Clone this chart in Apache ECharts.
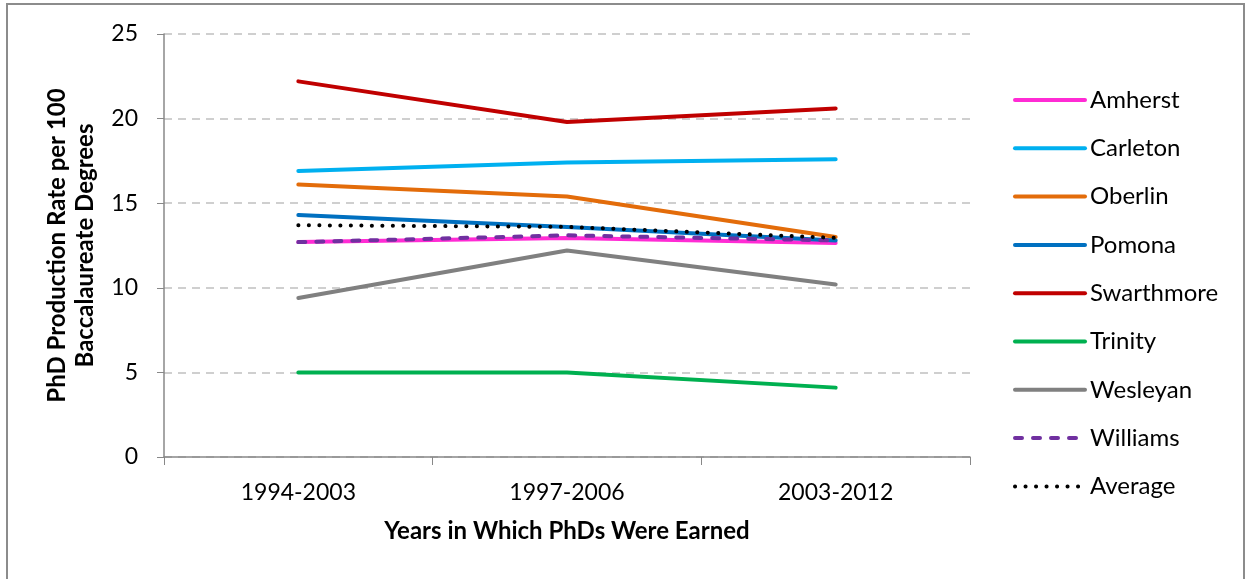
<!DOCTYPE html>
<html>
<head>
<meta charset="utf-8">
<script src="https://cdn.jsdelivr.net/npm/echarts@6/dist/echarts.min.js"></script>
<style>
  html, body { margin: 0; padding: 0; background: #fff; }
  #chart { width: 1248px; height: 579px; }
</style>
</head>
<body>
<div id="chart"></div>
<script>
var periods = ['1994-2003', '1997-2006', '2003-2012'];
var amherst = [12.7, 12.95, 12.65];
var carleton = [16.9, 17.4, 17.6];
var oberlin = [16.1, 15.4, 13.0];
var pomona = [14.3, 13.6, 12.8];
var swarthmore = [22.2, 19.8, 20.6];
var trinity = [5.0, 5.0, 4.1];
var wesleyan = [9.4, 12.2, 10.2];
var williams = [12.7, 13.1, 12.8];
var average = [13.7, 13.6, 12.95];

var font = 'Lato, "Open Sans", sans-serif';

function line(name, data, color, type) {
    return {
        name: name,
        type: 'line',
        data: data,
        symbol: 'none',
        showSymbol: false,
        lineStyle: {
            color: color,
            width: 4,
            type: type || 'solid',
            cap: 'round'
        },
        itemStyle: { color: color },
        emphasis: { disabled: true }
    };
}

var charts = echarts.init(document.getElementById('chart'));
var option = {
    animation: false,
    textStyle: { fontFamily: font },
    graphic: [{
        type: 'rect',
        shape: { x: 7, y: 4, width: 1237, height: 580 },
        style: { fill: 'none', stroke: '#8c8c8c', lineWidth: 2 }
    }],
    grid: { left: 164, right: 278, top: 34, bottom: 122 },
    legend: {
        orient: 'vertical',
        left: 1008,
        top: 83,
        itemWidth: 70,
        itemHeight: 24,
        itemGap: 24.3,
        itemStyle: { opacity: 0 },
        lineStyle: { width: 4, cap: 'round' },
        textStyle: { fontSize: 24, color: '#000', fontFamily: font },
        data: ['Amherst', 'Carleton', 'Oberlin', 'Pomona', 'Swarthmore', 'Trinity', 'Wesleyan', 'Williams', 'Average']
    },
    xAxis: {
        type: 'category',
        data: periods,
        boundaryGap: true,
        name: 'Years in Which PhDs Were Earned',
        nameLocation: 'middle',
        nameGap: 62,
        nameTextStyle: { fontSize: 24, fontWeight: 'bold', color: '#000' },
        axisLine: { lineStyle: { color: '#888', width: 1.5 } },
        axisTick: { show: true, length: 8, interval: 0, lineStyle: { color: '#888' } },
        axisLabel: { fontSize: 23, color: '#000', margin: 24 }
    },
    yAxis: {
        type: 'value',
        min: 0,
        max: 25,
        interval: 5,
        name: 'PhD Production Rate per 100\nBaccalaureate Degrees',
        nameLocation: 'middle',
        nameGap: 65,
        nameTextStyle: { fontSize: 24, fontWeight: 'bold', color: '#000', lineHeight: 28 },
        axisLine: { show: true, lineStyle: { color: '#888', width: 1.5 } },
        axisTick: { show: true, length: 7, lineStyle: { color: '#888' } },
        axisLabel: { fontSize: 23, color: '#000', margin: 26 },
        splitLine: { lineStyle: { color: '#c0c0c0', type: [8, 6], width: 1.5 } }
    },
    series: [
        line('Amherst', amherst, '#ff2bd4'),
        line('Carleton', carleton, '#00b0f0'),
        line('Oberlin', oberlin, '#e36c0a'),
        line('Pomona', pomona, '#0070c0'),
        line('Swarthmore', swarthmore, '#c00000'),
        line('Trinity', trinity, '#00b050'),
        line('Wesleyan', wesleyan, '#808080'),
        line('Williams', williams, '#7030a0', [7, 11]),
        line('Average', average, '#000000', [0.1, 10.4])
    ]
};
//渲染图表
if (option && typeof option === "object") {
    charts.setOption(option, true);
}
</script>
</body>
</html>
